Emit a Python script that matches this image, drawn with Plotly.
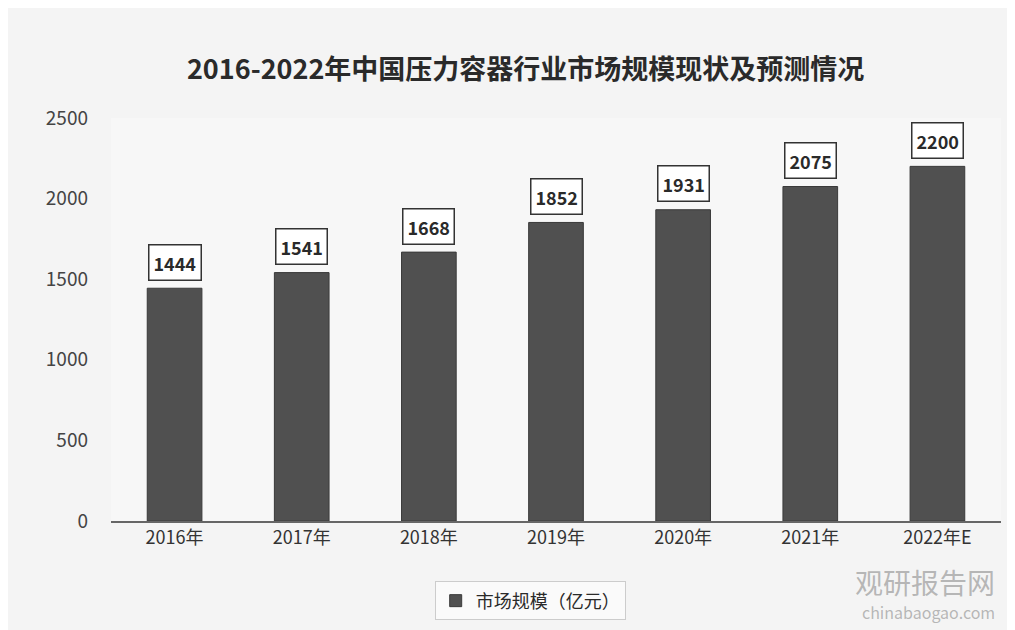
import plotly.graph_objects as go

categories = ["2016年", "2017年", "2018年", "2019年", "2020年", "2021年", "2022年E"]
values = [1444, 1541, 1668, 1852, 1931, 2075, 2200]
series_name = "市场规模（亿元）"
title_text = "2016-2022年中国压力容器行业市场规模现状及预测情况"
y_ticks = [0, 500, 1000, 1500, 2000, 2500]

FONT = "Noto Sans CJK SC"

fig = go.Figure()
fig.add_trace(go.Bar(
    x=categories, y=values, name=series_name,
    marker=dict(color="#505050", line=dict(color="#3a3a3a", width=1)),
    showlegend=True,
))

for c, v in zip(categories, values):
    fig.add_annotation(
        x=c, y=v, text=f"<b>{v}</b>", showarrow=False, yshift=26,
        font=dict(family=FONT, size=18, color="#2a2a2a"),
        bgcolor="white", bordercolor="#333333", borderwidth=1.5, borderpad=4,
    )

# watermark
fig.add_annotation(x=0.995, y=-0.098, xref="paper", yref="paper", xanchor="right", yanchor="top",
                   text="观研报告网", showarrow=False,
                   font=dict(family=FONT, size=28, color="rgba(120,120,120,0.5)"))
fig.add_annotation(x=0.995, y=-0.19, xref="paper", yref="paper", xanchor="right", yanchor="top",
                   text="chinabaogao.com", showarrow=False,
                   font=dict(family=FONT, size=16, color="rgba(120,120,120,0.5)"))

fig.update_layout(
    width=1015, height=630,
    paper_bgcolor="#f4f4f4", plot_bgcolor="#f7f7f7",
    margin=dict(l=103, r=22, t=110, b=117),
    title=dict(text="<b>" + title_text + "</b>", x=0.51, xanchor="center", y=0.902, yanchor="middle",
               font=dict(family=FONT, size=27, color="#2a2a2a")),
    bargap=0.57,
    xaxis=dict(tickfont=dict(family=FONT, size=18, color="#333333"),
               showline=True, linecolor="#666666", linewidth=1.5, ticks="",
               showgrid=False),
    yaxis=dict(range=[0, 2500], tickvals=y_ticks, showgrid=False, zeroline=False,
               tickfont=dict(family=FONT, size=19, color="#444444"), ticks="",
               showline=False, ticklabelstandoff=22),
    legend=dict(orientation="h", x=0.471, xanchor="center", y=-0.15, yanchor="top",
                bordercolor="#cccccc", borderwidth=1, bgcolor="#fafafa",
                font=dict(family=FONT, size=18, color="#2a2a2a")),
)

fig.write_html("out.html")
